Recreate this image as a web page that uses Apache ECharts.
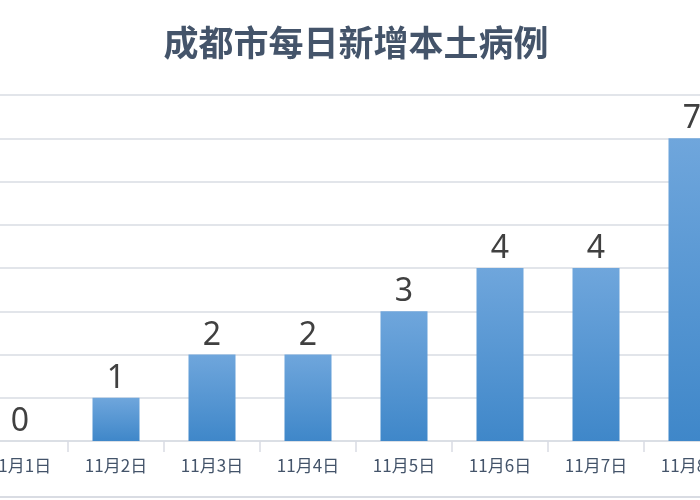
<!DOCTYPE html>
<html><head><meta charset="utf-8">
<script src="https://cdn.jsdelivr.net/npm/echarts@6/dist/echarts.min.js"></script>
<style>html,body{margin:0;padding:0;background:#fff;overflow:hidden;width:700px;height:500px}#c{width:768px;height:500px;margin-left:-28px}</style>
</head><body><div id="c"></div>
<script>
const categories = ['11月1日','11月2日','11月3日','11月4日','11月5日','11月6日','11月7日','11月8日'];
const cases = [0,1,2,2,3,4,4,7];
const chart = echarts.init(document.getElementById('c'));
chart.setOption({
  backgroundColor:'#fff',
  title:{text:'成都市每日新增本土病例',left:'center',top:20,
    textStyle:{fontFamily:'Noto Sans CJK SC',fontSize:35,fontWeight:'bold',color:'#44546a'}},
  grid:{left:0,right:0,top:95,bottom:59,containLabel:false},
  xAxis:{type:'category',data:categories,
    axisLine:{lineStyle:{color:'#d9dce3',width:1.5}},
    axisTick:{show:true,length:11,lineStyle:{color:'#d9dce3',width:1.5}},
    axisLabel:{color:'#44546a',fontSize:17,margin:16,fontFamily:'Noto Sans CJK SC'}},
  yAxis:{type:'value',min:0,max:8,interval:1,axisLabel:{show:false},
    splitLine:{lineStyle:{color:'#d9dce3',width:1.5}}},
  series:[{type:'bar',data:cases,barWidth:47,
    itemStyle:{color:new echarts.graphic.LinearGradient(0,0,0,1,[{offset:0,color:'#6fa6dc'},{offset:1,color:'#3f87c9'}])},
    label:{show:true,position:'top',fontSize:32,color:'#404040',distance:3,fontFamily:'Noto Sans'}}],
  graphic:[{type:'line',shape:{x1:0,y1:497,x2:768,y2:497},style:{stroke:'#d9dce3',lineWidth:2}}]
});
</script></body></html>
